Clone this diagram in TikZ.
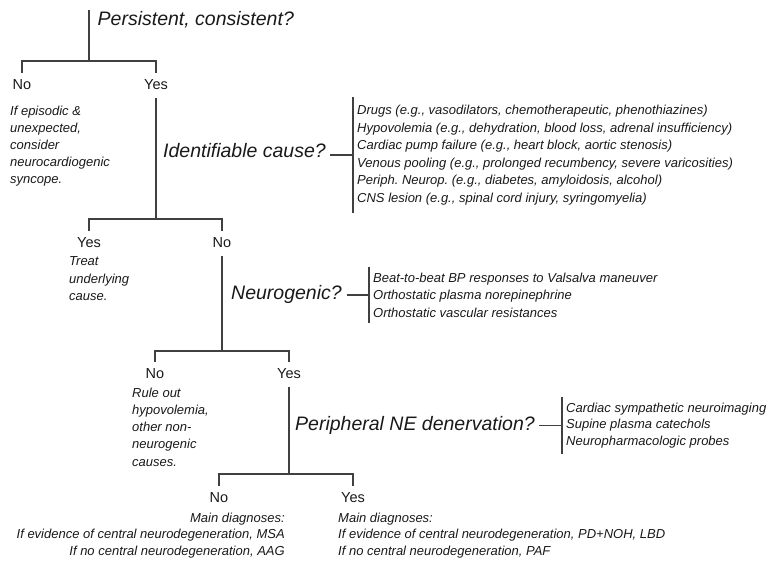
\documentclass[tikz,border=0pt]{standalone}
\usepackage{fontspec}
\setmainfont{Liberation Sans}

\begin{document}
\frenchspacing
\begin{tikzpicture}[x=1pt,y=-1pt,
  question/.style={text=black!90,font=\fontsize{19.5}{23}\selectfont\itshape,inner sep=0pt,anchor=base west},
  answer/.style={text=black!90,font=\fontsize{14.5}{17}\selectfont,text height=11pt,text depth=4pt,inner xsep=0pt,inner ysep=5pt,anchor=base},
  note/.style={text=black!90,font=\fontsize{13}{17.2}\selectfont\itshape,inner sep=0pt,align=left,anchor=north west},
  cues/.style={text=black!90,font=\fontsize{13}{17.5}\selectfont\itshape,inner xsep=4pt,inner ysep=6pt,align=left,anchor=west},
  wire/.style={draw=black!75,line width=1.1pt}]

\useasboundingbox (0,0) rectangle (771,562);

% objects at depth 50:
\coordinate (top) at (89,10);
\coordinate (j1) at (89,61);
\node[question] (q1) at (97.5,25.5) {Persistent, consistent?};
\node[answer] (no1) at (22,89) {No};
\node[answer] (yes1) at (156,89) {Yes};
\node[note] (n1) at (10,105.5) {If episodic \&\\unexpected,\\consider\\neurocardiogenic\\syncope.};
\draw[wire] (top) -- (j1);
\draw[wire] (no1.north) |- (j1) -| (yes1.north);

\coordinate (j2) at (156,219);
\node[question] (q2) at (163,157.5) {Identifiable cause?};
\node[cues,inner ysep=8pt] (c2) at ([shift={(27pt,2.5pt)}]q2.base east) {Drugs (e.g., vasodilators, chemotherapeutic, phenothiazines)\\Hypovolemia (e.g., dehydration, blood loss, adrenal insufficiency)\\Cardiac pump failure (e.g., heart block, aortic stenosis)\\Venous pooling (e.g., prolonged recumbency, severe varicosities)\\Periph. Neurop. (e.g., diabetes, amyloidosis, alcohol)\\CNS lesion (e.g., spinal cord injury, syringomyelia)};
\draw[wire] (c2.west) -- ++(-23,0);
\draw[wire] (c2.north west) -- (c2.south west);
\draw[wire] (yes1.south) -- (j2);
\node[answer] (yes2) at (89,247) {Yes};
\node[answer] (no2) at (222,247) {No};
\draw[wire] (yes2.north) |- (j2) -| (no2.north);
\node[note] (n2) at (69,256.7) {Treat\\underlying\\cause.};

\coordinate (j3) at (222,351);
\node[question] (q3) at (231,299) {Neurogenic?};
\node[cues] (c3) at ([shift={(27pt,4pt)}]q3.base east) {Beat-to-beat BP responses to Valsalva maneuver\\Orthostatic plasma norepinephrine\\Orthostatic vascular resistances};
\draw[wire] (c3.west) -- ++(-22,0);
\draw[wire] (c3.north west) -- (c3.south west);
\draw[wire] (no2.south) -- (j3);
\node[answer] (no3) at (155,378) {No};
\node[answer] (yes3) at (289,378) {Yes};
\draw[wire] (no3.north) |- (j3) -| (yes3.north);
\node[note] (n3) at (132,387.7) {Rule out\\hypovolemia,\\other non-\\neurogenic\\causes.};

\coordinate (j4) at (289,474);
\node[question] (q4) at (295,430) {Peripheral NE denervation?};
\node[cues,font=\fontsize{13}{16.5}\selectfont\itshape] (c4) at ([shift={(27pt,4.5pt)}]q4.base east) {Cardiac sympathetic neuroimaging\\Supine plasma catechols\\Neuropharmacologic probes};
\draw[wire] (c4.west) -- ++(-23,0);
\draw[wire] (c4.north west) -- (c4.south west);
\draw[wire] (yes3.south) -- (j4);
\node[answer] (no4) at (219,502) {No};
\node[answer] (yes4) at (353,502) {Yes};
\draw[wire] (no4.north) |- (j4) -| (yes4.north);
\node[note,font=\fontsize{13}{16.5}\selectfont\itshape,align=right,anchor=north east] (d4) at (285,512.7) {Main diagnoses:\\If evidence of central neurodegeneration, MSA\\If no central neurodegeneration, AAG};
\node[note,font=\fontsize{13}{16.5}\selectfont\itshape] (d5) at (338,512.7) {Main diagnoses:\\If evidence of central neurodegeneration, PD+NOH, LBD\\If no central neurodegeneration, PAF};

\end{tikzpicture}
\end{document}
